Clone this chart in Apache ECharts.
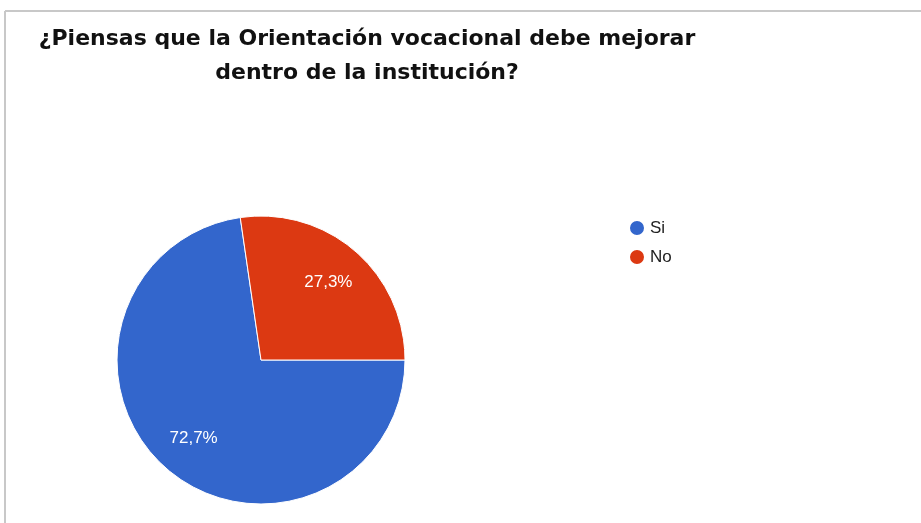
<!DOCTYPE html>
<html>
<head>
<meta charset="utf-8">
<script src="https://cdn.jsdelivr.net/npm/echarts@6/dist/echarts.min.js"></script>
<style>
  html, body { margin: 0; padding: 0; background: #fff; }
  #chart { width: 921px; height: 523px; }
</style>
</head>
<body>
<div id="chart"></div>
<script>
// data
const categories = ['Si', 'No'];
const values = [72.7, 27.3];
const colors = ['#3366cc', '#dc3912'];

const pieData = categories.map((name, i) => ({
  name: name,
  value: values[i],
  itemStyle: { color: colors[i] },
}));

const chart = echarts.init(document.getElementById('chart'), null, { renderer: 'canvas' });

chart.setOption({
  backgroundColor: '#fff',
  animation: false,
  title: {
    text: '¿Piensas que la Orientación vocacional debe mejorar\ndentro de la institución?',
    left: 362,
    top: 17,
    textAlign: 'center',
    textStyle: {
      fontFamily: 'DejaVu Sans',
      fontWeight: 'bold',
      fontSize: 22,
      lineHeight: 34,
      color: '#111',
    },
  },
  legend: {
    orient: 'vertical',
    left: 623,
    top: 214,
    icon: 'circle',
    itemWidth: 16,
    itemHeight: 16,
    itemGap: 11,
    data: categories,
    textStyle: { fontFamily: 'Liberation Sans', fontSize: 17, color: '#222' },
  },
  graphic: [
    { type: 'line', shape: { x1: 5, y1: 11, x2: 921, y2: 11 }, style: { stroke: '#c8c8c8', lineWidth: 2 } },
    { type: 'line', shape: { x1: 5, y1: 11, x2: 5, y2: 523 }, style: { stroke: '#c8c8c8', lineWidth: 2 } },
  ],
  series: [
    {
      type: 'pie',
      center: [261, 360],
      radius: [0, 144],
      startAngle: 0,
      clockwise: true,
      label: { show: false },
      labelLine: { show: false },
      itemStyle: { borderColor: '#fff', borderWidth: 1 },
      emphasis: { disabled: true },
      data: pieData,
    },
    {
      // transparent copy, only to place the percentage labels further out
      type: 'pie',
      center: [261, 360],
      radius: [0, 200],
      startAngle: 0,
      clockwise: true,
      silent: true,
      z: 3,
      itemStyle: { color: 'rgba(0,0,0,0)', borderWidth: 0 },
      label: {
        show: true,
        position: 'inside',
        color: '#fff',
        fontFamily: 'Liberation Sans',
        fontSize: 17,
        formatter: p => p.value.toFixed(1).replace('.', ',') + '%',
      },
      labelLine: { show: false },
      emphasis: { disabled: true },
      data: categories.map((name, i) => ({ name: name, value: values[i] })),
    },
  ],
});
</script>
</body>
</html>
